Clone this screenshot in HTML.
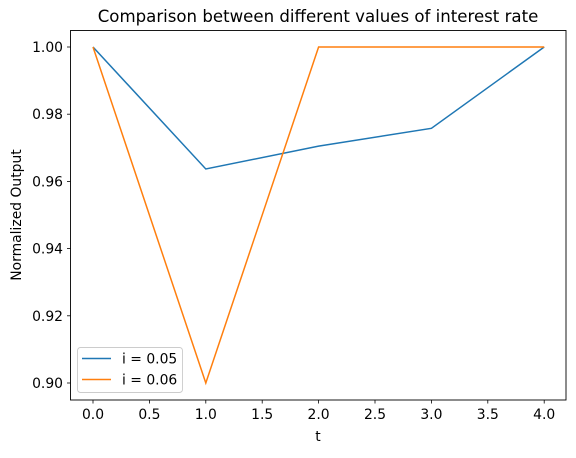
<!DOCTYPE html>
<html><head><meta charset="utf-8"><style>
body{margin:0;background:#fff;}
text{font-family:"DejaVu Sans","Liberation Sans",sans-serif;fill:#000;}
</style></head><body>
<svg id="chart" width="576" height="453" xmlns="http://www.w3.org/2000/svg">
<text x="318" y="22" font-size="16.6" text-anchor="middle">Comparison between different values of interest rate</text>
<g id="grid"></g>
<rect x="70.5" y="30.5" width="495.5" height="369.5" fill="none" stroke="#000" stroke-width="0.9"/>
<text x="318" y="441" font-size="13.9" text-anchor="middle">t</text>
<text transform="translate(21,215) rotate(-90)" font-size="13.9" text-anchor="middle">Normalized Output</text>
<g id="series"></g>
<g>
<rect x="77.5" y="347.5" width="105" height="45" rx="3" fill="#fff" fill-opacity="0.8" stroke="#ccc" stroke-width="0.9"/>
<line x1="82" y1="358.5" x2="111" y2="358.5" stroke="#1f77b4" stroke-width="1.5"/>
<text x="122" y="363.5" font-size="13.9">i = 0.05</text>
<line x1="82" y1="379.5" x2="111" y2="379.5" stroke="#ff7f0e" stroke-width="1.5"/>
<text x="122" y="384.5" font-size="13.9">i = 0.06</text>
</g>
</svg>
<script>
const tValues = [0, 1, 2, 3, 4];
const seriesI005 = [1.0, 0.9637, 0.9705, 0.9758, 1.0];
const seriesI006 = [1.0, 0.90, 1.0, 1.0, 1.0];
const xTicks = [0, 0.5, 1, 1.5, 2, 2.5, 3, 3.5, 4];
const xTickLabels = ["0.0","0.5","1.0","1.5","2.0","2.5","3.0","3.5","4.0"];
const yTicks = [0.90, 0.92, 0.94, 0.96, 0.98, 1.00];
const yTickLabels = ["0.90","0.92","0.94","0.96","0.98","1.00"];

const NS = "http://www.w3.org/2000/svg";
const xs = v => 93 + v * 112.8;
const ys = v => 47 + (1 - v) * 3360;
const g = document.getElementById('grid');
xTicks.forEach((t, i) => {
  const l = document.createElementNS(NS, 'line');
  l.setAttribute('x1', xs(t)); l.setAttribute('x2', xs(t));
  l.setAttribute('y1', 400); l.setAttribute('y2', 403.5);
  l.setAttribute('stroke', '#000'); l.setAttribute('stroke-width', '0.8');
  
  
  g.appendChild(l);
  const tx = document.createElementNS(NS, 'text');
  tx.setAttribute('x', xs(t)); tx.setAttribute('y', 419);
  tx.setAttribute('font-size', '13.9'); tx.setAttribute('text-anchor', 'middle');
  tx.textContent = xTickLabels[i];
  
  
  g.appendChild(tx);
});
yTicks.forEach((t, i) => {
  const l = document.createElementNS(NS, 'line');
  l.setAttribute('x1', 67); l.setAttribute('x2', 70.5);
  l.setAttribute('y1', ys(t)); l.setAttribute('y2', ys(t));
  l.setAttribute('stroke', '#000'); l.setAttribute('stroke-width', '0.8');
  
  
  g.appendChild(l);
  const tx = document.createElementNS(NS, 'text');
  tx.setAttribute('x', 63); tx.setAttribute('y', ys(t) + 5);
  tx.setAttribute('font-size', '13.9'); tx.setAttribute('text-anchor', 'end');
  tx.textContent = yTickLabels[i];
  
  
  g.appendChild(tx);
});
const s = document.getElementById('series');
[[seriesI005, '#1f77b4', 'line-i005'], [seriesI006, '#ff7f0e', 'line-i006']].forEach(([vals, c, n]) => {
  const p = document.createElementNS(NS, 'polyline');
  p.setAttribute('points', vals.map((v, i) => xs(tValues[i]) + ',' + ys(v)).join(' '));
  p.setAttribute('fill', 'none'); p.setAttribute('stroke', c); p.setAttribute('stroke-width', '1.5');
  
  
  s.appendChild(p);
});
</script>
</body></html>
